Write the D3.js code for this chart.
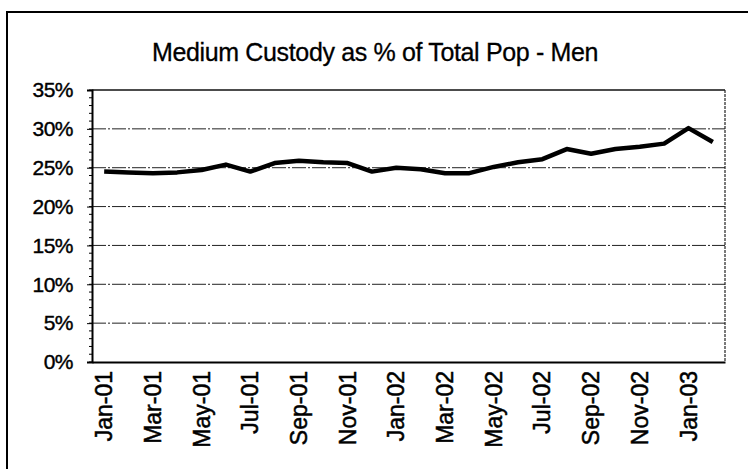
<!DOCTYPE html>
<html><head><meta charset="utf-8">
<script src="https://cdn.jsdelivr.net/npm/d3@7"></script>
<style>body{margin:0;background:#fff}svg{display:block}text{font-family:Arial,"Liberation Sans",sans-serif;fill:#000}</style>
</head><body>
<script>
const months = ["Jan-01","Feb-01","Mar-01","Apr-01","May-01","Jun-01","Jul-01","Aug-01","Sep-01","Oct-01","Nov-01","Dec-01",
  "Jan-02","Feb-02","Mar-02","Apr-02","May-02","Jun-02","Jul-02","Aug-02","Sep-02","Oct-02","Nov-02","Dec-02",
  "Jan-03","Feb-03"];
const values = [24.5,24.4,24.3,24.4,24.7,25.4,24.5,25.6,25.9,25.7,25.6,24.5,
  25.0,24.8,24.3,24.3,25.1,25.7,26.1,27.4,26.8,27.4,27.7,28.1,30.1,28.3];
const yTicks = [0,5,10,15,20,25,30,35];
const title = "Medium Custody as % of Total Pop - Men";

const W=748,H=469;
const svg=d3.select("body").append("svg").attr("width",W).attr("height",H);
svg.append("rect").attr("x",7).attr("y",12).attr("width",760).attr("height",480)
  .attr("fill","none").attr("stroke","#000").attr("stroke-width",2);

const L=92,R=725,T=90,B=362;
const x=d3.scaleBand().domain(months).range([L,R]);
const y=d3.scaleLinear().domain([0,35]).range([B,T]);

svg.append("text").attr("x",375).attr("y",61).attr("text-anchor","middle")
  .attr("font-size",25).style("letter-spacing","-0.35px")
  .attr("stroke","#000").attr("stroke-width",0.3).text(title);

svg.append("g").selectAll("line").data(yTicks.filter(d=>d>0&&d<35)).join("line")
  .attr("x1",L).attr("x2",R).attr("y1",d=>y(d)).attr("y2",d=>y(d))
  .attr("stroke","#222").attr("stroke-width",1).attr("stroke-dasharray","14,2,2,2");
svg.append("line").attr("x1",L).attr("x2",R).attr("y1",T).attr("y2",T).attr("stroke","#111").attr("stroke-width",1.5);
svg.append("line").attr("x1",R).attr("x2",R).attr("y1",T).attr("y2",B).attr("stroke","#222").attr("stroke-width",1.2).attr("stroke-dasharray","3,1");

svg.append("g").selectAll("line").data(d3.range(0,36,1)).join("line")
  .attr("x1",L-3).attr("x2",L).attr("y1",d=>y(d)).attr("y2",d=>y(d)).attr("stroke","#000").attr("stroke-width",1);

const yAxis=svg.append("g").attr("transform",`translate(${L},0)`)
  .call(d3.axisLeft(y).tickValues(yTicks).tickFormat(d=>d+"%").tickSize(5).tickPadding(14));
yAxis.select(".domain").attr("stroke","#000").attr("stroke-width",2);
yAxis.selectAll("text").attr("font-size",21).attr("font-family","Arial, Liberation Sans, sans-serif")
  .attr("stroke","#000").attr("stroke-width",0.4).style("letter-spacing","-0.5px");

const xAxis=svg.append("g").attr("transform",`translate(0,${B})`)
  .call(d3.axisBottom(x).tickValues(months.filter((d,i)=>i%2===0)).tickSize(0).tickPadding(0));
xAxis.select(".domain").attr("stroke","#000").attr("stroke-width",2);
xAxis.selectAll("text").attr("font-size",23).attr("font-family","Arial, Liberation Sans, sans-serif")
  .attr("stroke","#000").attr("stroke-width",0.5)
  .attr("text-anchor","end").attr("transform","rotate(-90)").attr("x",-9).attr("y",0).attr("dy","0.35em");

const line=d3.line().x((d,i)=>x(months[i])+x.bandwidth()/2).y(d=>y(d));
svg.append("path").datum(values).attr("d",line).attr("fill","none").attr("stroke","#000")
  .attr("stroke-width",4.5).attr("stroke-linejoin","round");
</script>
</body></html>
